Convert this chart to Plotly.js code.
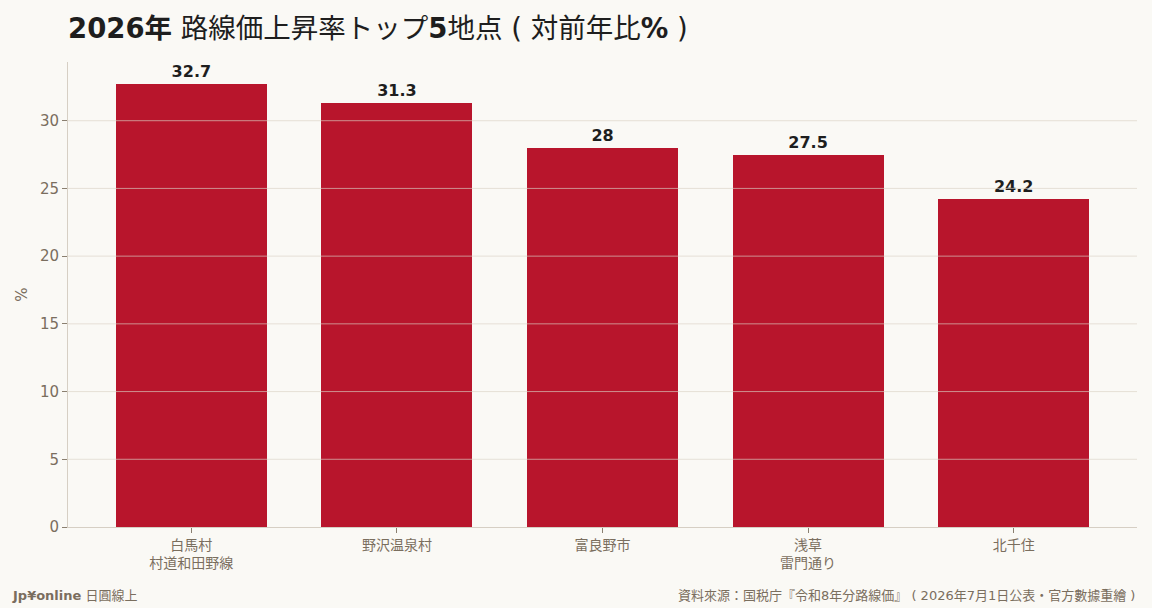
<!DOCTYPE html>
<html>
<head>
<meta charset="utf-8">
<script src="https://cdn.plot.ly/plotly-3.0.1.min.js"></script>
<style>
  html, body { margin: 0; padding: 0; background: #faf9f5; }
  #chart { width: 1152px; height: 608px; }
</style>
</head>
<body>
<div id="chart"></div>
<script>
// data
const places = ["白馬村<br>村道和田野線", "野沢温泉村", "富良野市", "浅草<br>雷門通り", "北千住"];
const riseRates = [32.7, 31.3, 28, 27.5, 24.2];
const yTicks = [0, 5, 10, 15, 20, 25, 30];

const FONT = "DejaVu Sans, Noto Sans CJK JP, sans-serif";
const LABEL_COLOR = "#7a6e5e";
const SPINE_COLOR = "#d6cfc4";

// grid lines drawn over the bars, like the reference
const gridShapes = yTicks.filter(v => v > 0).map(v => ({
    type: "line", xref: "paper", x0: 0, x1: 1, yref: "y", y0: v, y1: v,
    layer: "above",
    line: { color: "rgba(218,210,198,0.65)", width: 1 }
}));

const barData = [{
    type: "bar",
    x: places.map((p, i) => i),
    y: riseRates,
    width: 0.735,
    marker: { color: "#b8152c", line: { width: 0 } },
    text: riseRates.map(v => String(v)),
    textposition: "outside",
    textfont: { family: FONT, size: 16, color: "#1e1e1e", weight: "bold" },
    cliponaxis: false,
    hoverinfo: "none"
}];

const barLayout = {
    width: 1152,
    height: 608,
    paper_bgcolor: "#faf9f5",
    plot_bgcolor: "#faf9f5",
    font: { family: FONT, color: LABEL_COLOR },
    margin: { t: 62, b: 81, l: 68, r: 15 },
    bargap: 0,
    showlegend: false,
    title: {
        text: "<b>2026年</b> 路線価上昇率トップ<b>5</b>地点 ( 対前年比<b>%</b> )",
        font: { family: FONT, size: 27.5, color: "#1e1e1e" },
        x: 0, xref: "paper", xanchor: "left",
        y: 0.953, yanchor: "middle"
    },
    xaxis: {
        tickmode: "array",
        tickvals: places.map((p, i) => i),
        ticktext: places,
        range: [-0.6, 4.6],
        showgrid: false,
        zeroline: false,
        showline: true,
        linecolor: SPINE_COLOR,
        linewidth: 1,
        ticks: "outside",
        ticklen: 5,
        tickcolor: "#8a7f70",
        tickfont: { family: FONT, size: 14, color: LABEL_COLOR }
    },
    yaxis: {
        range: [0, 34.335],
        tickmode: "array",
        tickvals: yTicks,
        showgrid: false,
        zeroline: false,
        showline: true,
        linecolor: SPINE_COLOR,
        linewidth: 1,
        ticks: "outside",
        ticklen: 5,
        tickcolor: "#8a7f70",
        tickfont: { family: FONT, size: 15, color: LABEL_COLOR },
        title: { text: "%", standoff: 8, font: { family: FONT, size: 15, color: LABEL_COLOR } }
    },
    shapes: gridShapes,
    annotations: [
        {
            text: "<b>Jp¥online</b> 日圓線上",
            xref: "paper", yref: "paper", x: -0.0545, y: -0.148,
            xanchor: "left", yanchor: "middle", showarrow: false,
            font: { family: FONT, size: 13, color: LABEL_COLOR }
        },
        {
            text: "資料來源：国税庁『令和8年分路線価』 ( 2026年7月1日公表・官方數據重繪 )",
            xref: "paper", yref: "paper", x: 1, y: -0.148,
            xanchor: "right", yanchor: "middle", showarrow: false,
            font: { family: FONT, size: 13, color: LABEL_COLOR }
        }
    ]
};

const barConfig = { staticPlot: true, responsive: false };

Plotly.newPlot("chart", barData, barLayout, barConfig);
</script>
</body>
</html>
